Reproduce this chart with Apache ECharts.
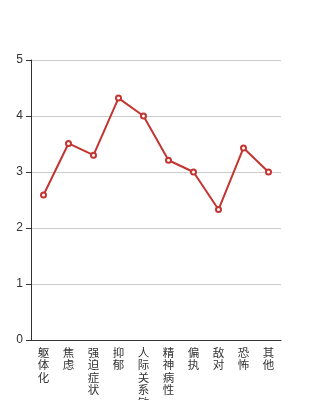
<!DOCTYPE html>
<html><head><meta charset="utf-8">
<script src="https://cdn.jsdelivr.net/npm/echarts@6/dist/echarts.min.js"></script>
<style>html,body{margin:0;padding:0;background:#fff}#c{width:313px;height:400px}</style>
</head><body><div id="c"></div>
<script>
var categories = ['躯体化','焦虑','强迫症状','抑郁','人际关系敏感','精神病性','偏执','敌对','恐怖','其他'];
var values = [2.59, 3.51, 3.30, 4.32, 4.00, 3.21, 3.00, 2.33, 3.43, 3.00];
var yTicks = [0, 1, 2, 3, 4, 5];

var chart = echarts.init(document.getElementById('c'));
chart.setOption({
  animation: false,
  grid: {left: 31, right: 32, top: 60, bottom: 60, containLabel: false, outerBoundsMode: 'none'},
  xAxis: {
    type: 'category',
    data: categories,
    boundaryGap: true,
    axisLine: {lineStyle: {color: '#333'}},
    axisTick: {lineStyle: {color: '#333'}},
    axisLabel: {
      color: '#333', fontSize: 11.5, lineHeight: 12.5, interval: 0, margin: 6,
      fontFamily: 'Noto Sans CJK SC',
      formatter: function (v) { return v.split('').join('\n'); }
    }
  },
  yAxis: {
    type: 'value', min: yTicks[0], max: yTicks[yTicks.length - 1], interval: 1,
    axisLine: {show: true, lineStyle: {color: '#333'}},
    axisTick: {show: true, lineStyle: {color: '#333'}},
    axisLabel: {color: '#333', fontSize: 12, margin: 8},
    splitLine: {lineStyle: {color: '#ccc'}}
  },
  series: [{
    type: 'line',
    data: values,
    symbol: 'emptyCircle',
    symbolSize: 5,
    lineStyle: {color: '#c23531', width: 2},
    itemStyle: {color: '#c23531'}
  }]
});
</script></body></html>
